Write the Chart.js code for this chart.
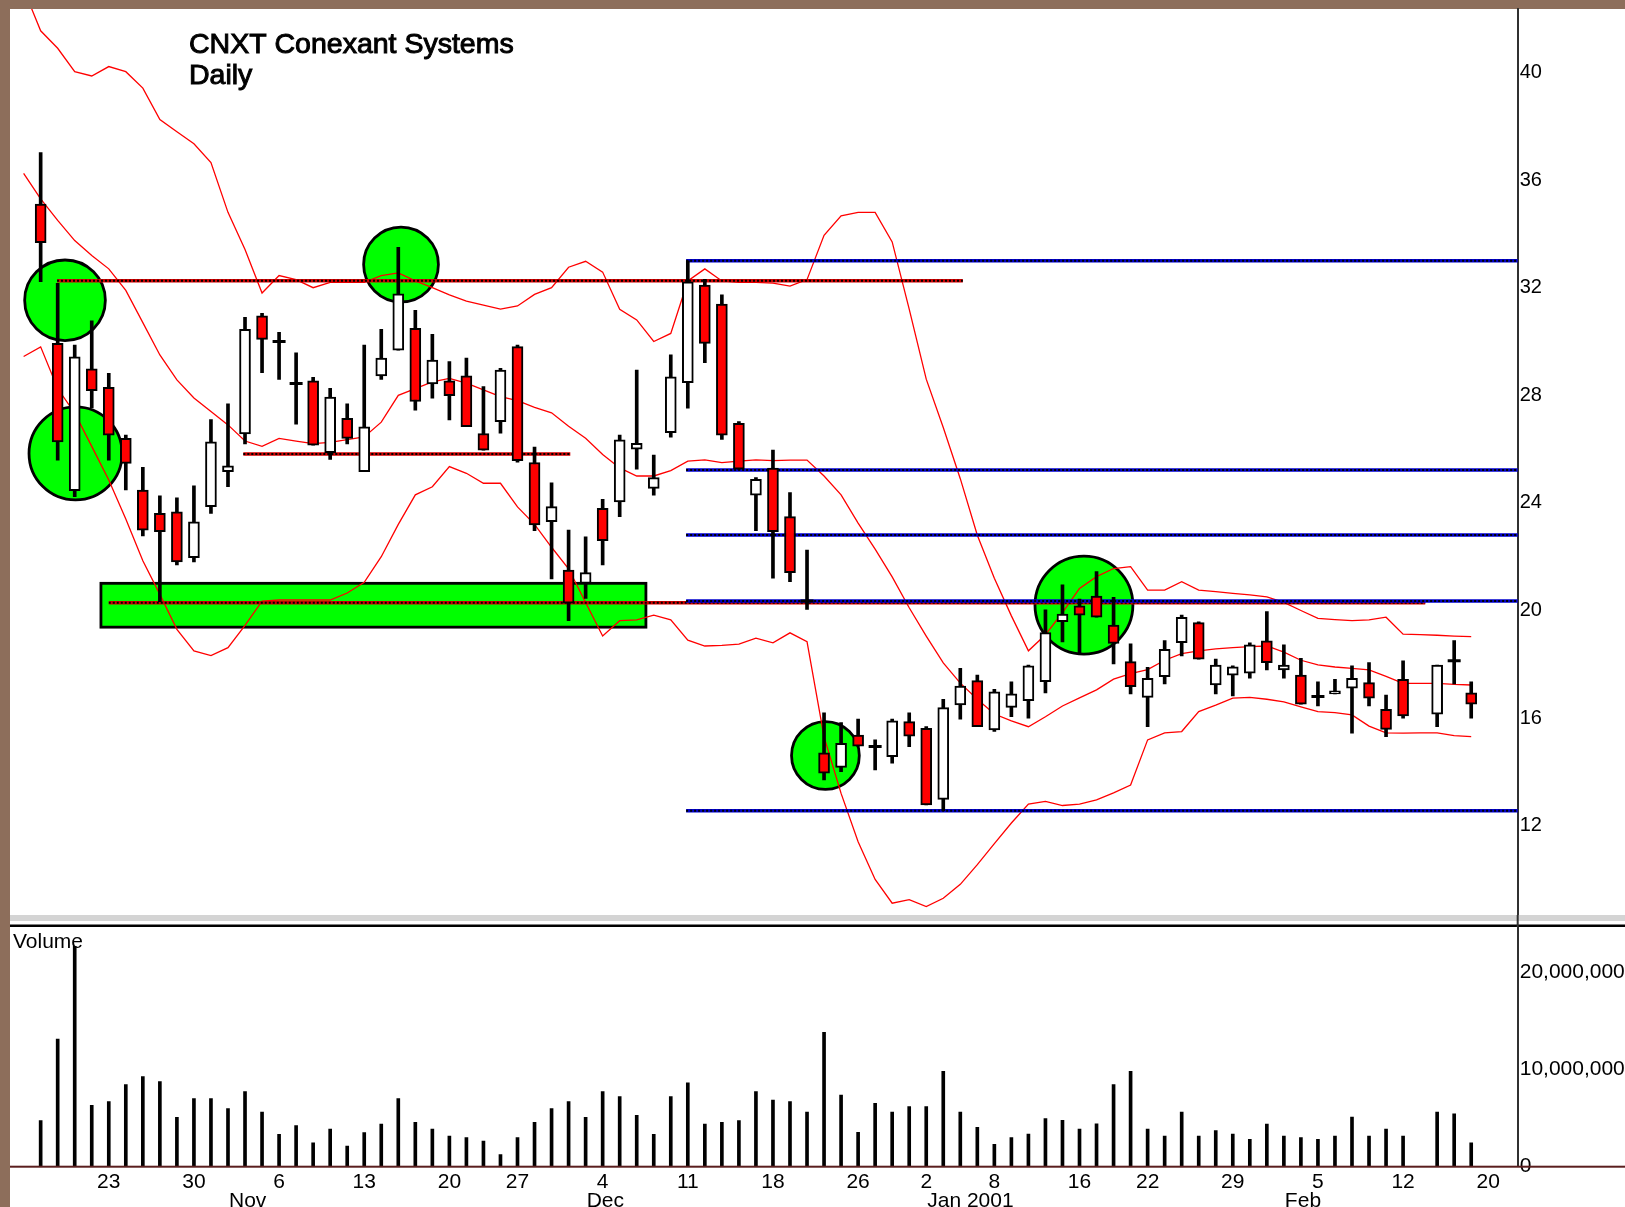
<!DOCTYPE html>
<html>
<head>
<meta charset="utf-8">
<script src="https://cdn.jsdelivr.net/npm/chart.js@4.4.1/dist/chart.umd.min.js"></script>
<style>
  html, body { margin: 0; padding: 0; background: #8d6e5b; }
  #wrap { position: relative; width: 1625px; height: 1207px; overflow: hidden; }
  canvas { position: absolute; left: 0; }
  #priceChart { top: 0; }
  #volChart { top: 927px; }
</style>
</head>
<body>
<div id="wrap">
  <canvas id="priceChart" width="1625" height="927"></canvas>
  <canvas id="volChart" width="1625" height="280"></canvas>
</div>
<script>
// Trading day index 0 = Oct 17 2000, 84 = Feb 16 2001 (81 = Feb 13, no data)
const opens = [35.11, 29.93, 24.45, 28.98, 28.3, 26.4, 24.48, 23.61, 23.67, 21.96,
  23.86, 25.16, 26.56, 30.95, 30.0, 28.44, 28.54, 25.87, 27.14, 25.16,
  28.72, 29.68, 30.49, 28.42, 28.54, 28.72, 26.58, 27.02, 29.81, 25.5,
  23.3, 21.5, 21.01, 23.8, 24.04, 26.0, 24.54, 26.61, 28.47, 32.1,
  31.39, 26.96, 24.29, 25.29, 23.49, 20.35, 14.71, 14.17, 15.37, 14.94,
  14.57, 15.87, 15.62, 12.98, 16.49, 17.39, 15.56, 16.4, 16.65, 17.35,
  19.58, 20.17, 20.54, 19.46, 18.1, 16.77, 17.54, 18.8, 19.55, 17.23,
  17.6, 17.67, 18.87, 17.79, 17.6, 16.8, 16.9, 17.11, 17.32, 16.33,
  17.44, null, 16.15, 18.13, 16.94];
const highs = [37.02, 32.16, 29.87, 30.77, 28.82, 26.52, 25.32, 24.26, 24.19, 24.63,
  27.1, 27.68, 30.9, 31.05, 30.34, 29.58, 28.67, 28.26, 27.68, 29.87,
  30.45, 33.5, 31.16, 30.27, 29.25, 29.38, 28.32, 29.0, 29.87, 26.07,
  24.75, 22.99, 22.74, 24.13, 26.52, 28.94, 25.78, 29.5, 33.0, 32.31,
  31.73, 27.02, 24.94, 25.96, 24.38, 22.25, 16.2, 15.83, 15.96, 15.19,
  15.96, 16.2, 15.68, 16.7, 17.85, 17.6, 17.07, 17.35, 17.97, 20.02,
  20.95, 20.42, 21.45, 20.49, 18.76, 17.89, 18.88, 19.83, 19.58, 18.19,
  17.94, 18.8, 19.96, 18.72, 18.22, 17.35, 17.44, 17.94, 18.06, 16.86,
  18.13, null, 17.97, 18.88, 17.35];
const lows = [32.22, 25.59, 24.23, 27.53, 25.59, 24.48, 22.77, 20.33, 21.69, 21.81,
  23.61, 24.6, 26.19, 28.84, 28.59, 26.93, 26.15, 25.62, 26.19, 25.16,
  28.59, 29.68, 27.45, 27.89, 27.08, 26.83, 25.96, 26.59, 25.51, 22.97,
  21.17, 19.62, 20.45, 21.69, 23.49, 25.25, 24.29, 26.44, 27.52, 29.21,
  26.36, 25.25, 22.97, 21.2, 21.07, 20.04, 13.7, 14.01, 14.96, 14.07,
  14.32, 14.94, 12.77, 12.56, 15.96, 15.68, 15.5, 16.05, 16.0, 16.94,
  18.83, 18.41, 19.75, 18.01, 16.9, 15.68, 17.27, 18.31, 18.19, 16.9,
  16.82, 17.48, 17.79, 17.48, 16.52, 16.45, 16.9, 15.44, 16.45, 15.31,
  16.0, null, 15.68, 17.27, 16.0];
const closes = [33.67, 26.27, 29.43, 28.17, 26.52, 25.47, 22.99, 22.93, 21.81, 23.3,
  26.27, 25.38, 30.45, 30.08, 30.0, 28.44, 26.15, 27.93, 26.4, 26.83,
  29.38, 31.77, 27.77, 29.31, 27.99, 26.83, 25.96, 28.94, 25.57, 23.18,
  23.86, 20.27, 21.41, 22.6, 26.34, 26.21, 24.94, 28.69, 32.22, 29.93,
  26.52, 25.25, 24.88, 22.93, 21.41, 20.35, 13.95, 15.06, 14.96, 14.94,
  15.9, 15.33, 12.77, 16.39, 17.19, 15.68, 16.98, 16.9, 17.94, 19.18,
  19.87, 19.83, 19.75, 18.78, 17.17, 17.48, 18.56, 19.75, 18.19, 17.97,
  17.91, 18.72, 18.06, 17.97, 16.52, 16.8, 17.01, 17.48, 16.74, 15.58,
  16.08, null, 17.97, 18.13, 16.52];
// volume in millions of shares
const volumeM = [4.74, 13.16, 22.7, 6.32, 6.70, 8.45, 9.28, 8.76, 5.09, 7.01,
  7.01, 5.98, 7.73, 5.64, 3.33, 4.23, 2.47, 3.88, 2.13, 3.51,
  4.40, 7.01, 4.57, 3.88, 3.16, 2.99, 2.65, 1.24, 2.99, 4.57,
  5.98, 6.70, 5.09, 7.73, 7.22, 5.29, 3.33, 7.22, 8.63, 4.40,
  4.57, 4.74, 7.73, 6.87, 6.70, 5.64, 13.85, 7.39, 3.54, 6.53,
  5.64, 6.19, 6.19, 9.83, 5.64, 4.06, 2.30, 2.99, 3.37, 4.95,
  4.78, 3.88, 4.43, 8.45, 9.83, 3.88, 3.16, 5.64, 3.16, 3.71,
  3.37, 2.82, 4.40, 3.16, 2.99, 2.82, 3.16, 5.12, 3.16, 3.88,
  3.16, null, 5.64, 5.46, 2.47];

// Bollinger bands, first value is the day before index 0
const bandStart = -1;
const upperBand = [43.1, 41.55, 40.9, 40.03, 39.87, 40.22, 40.03, 39.42, 38.25, 37.8,
  37.35, 36.65, 34.8, 33.42, 31.8, 32.45, 32.3, 32.0, 32.2, 32.2,
  32.2, 32.45, 32.55, 32.25, 32.0, 31.73, 31.5, 31.35, 31.2, 31.32,
  31.75, 32.0, 32.76, 32.98, 32.58, 31.2, 30.8, 30.0, 30.3, 32.25,
  32.7, 32.25, 32.2, 32.2, 32.17, 32.06, 32.3, 33.95, 34.67, 34.8,
  34.8, 33.7, 31.2, 28.6, 26.8, 24.9, 22.8, 21.2, 19.8, 18.5,
  19.1, 19.92, 20.82, 21.26, 21.56, 21.63, 20.76, 20.76, 21.07, 20.76,
  20.7, 20.64, 20.58, 20.51, 20.3, 20.0, 19.71, 19.66, 19.62, 19.65,
  19.75, 19.12, 19.1, 19.08, 19.05, 19.03];
const middleBand = [36.25, 35.3, 34.5, 33.75, 33.2, 32.7, 31.9, 30.7, 29.5, 28.57,
  27.9, 27.4, 26.9, 26.3, 26.1, 26.4, 26.3, 26.2, 26.25, 26.35,
  26.45, 27.0, 28.0, 28.25, 28.5, 28.63, 28.45, 28.2, 27.95, 27.8,
  27.55, 27.35, 26.85, 26.4, 25.8, 25.3, 25.0, 25.0, 25.2, 25.55,
  25.6, 25.5, 25.55, 25.6, 25.57, 25.59, 25.59, 25.0, 24.3, 23.25,
  22.28, 21.25, 20.1, 19.05, 18.05, 17.3, 16.7, 16.15, 15.9, 15.68,
  16.05, 16.45, 16.75, 17.05, 17.45, 17.65, 17.8, 18.15, 18.4, 18.5,
  18.57, 18.62, 18.66, 18.68, 18.45, 18.15, 17.98, 17.9, 17.85, 17.79,
  17.55, 17.29, 17.29, 17.29, 17.25, 17.23];
const lowerBand = [29.44, 29.8, 28.25, 27.34, 26.1, 24.85, 23.4, 21.85, 20.6, 19.3,
  18.5, 18.32, 18.62, 19.45, 20.35, 20.39, 20.39, 20.39, 20.39, 20.65,
  21.05, 22.0, 23.2, 24.3, 24.6, 25.35, 25.1, 24.73, 24.73, 23.85,
  23.2, 22.35, 21.55, 20.3, 19.05, 19.62, 19.65, 19.83, 19.65, 18.9,
  18.68, 18.7, 18.75, 18.97, 18.8, 19.17, 18.84, 15.3, 13.2, 11.4,
  10.0, 9.12, 9.25, 8.99, 9.3, 9.82, 10.55, 11.33, 12.1, 12.8,
  12.9, 12.75, 12.8, 12.96, 13.22, 13.51, 15.19, 15.45, 15.5, 16.24,
  16.48, 16.74, 16.77, 16.7, 16.6, 16.42, 16.24, 16.2, 16.12, 15.7,
  15.45, 15.44, 15.45, 15.45, 15.35, 15.31];

// hand drawn support / resistance lines (red) and fibonacci levels (blue)
const resLevels = [32.26, 25.82, 20.29];
const resFrom = [0.96, 11.9, 4.0];
const resTo = [54.15, 31.1, 81.3];
const fibLevels = [33.0, 25.22, 22.81, 20.35, 12.56];
const fibFrom = 37.9;
const fibTo = 88;

// axis labels
const priceTicks = [12, 16, 20, 24, 28, 32, 36, 40];
const volTicks = [0, 10000000, 20000000];
const dayTicks = [4, 9, 14, 19, 24, 28, 33, 38, 43, 48, 52, 56, 61, 65, 70, 75, 80, 85];
const dayLabels = ['23', '30', '6', '13', '20', '27', '4', '11', '18', '26', '2', '8', '16', '22', '29', '5', '12', '20'];
const monthStarts = [11, 32, 52, 73];
const monthLabels = ['Nov', 'Dec', 'Jan 2001', 'Feb'];

// green highlights (centre in day index / price, radius in price units)
const circleX = [1.43, 2.05, 21.16, 46.08, 61.26];
const circleY = [31.53, 25.84, 32.86, 14.61, 20.2];
const circleR = [1.5, 1.73, 1.39, 1.26, 1.82];
const supportZone = { from: 3.54, to: 35.54, low: 19.38, high: 21.01 };

const xMin = -1.8, xMax = 86.73;
const FONT = '"Liberation Sans", Arial, sans-serif';
Chart.defaults.font.family = FONT;
Chart.defaults.color = '#000';

const noPad = s => { s.paddingTop = 0; s.paddingBottom = 0; s.paddingLeft = 0; s.paddingRight = 0; };

// ---- price panel datasets
const idx = opens.map((_, i) => i);
const valid = idx.filter(i => opens[i] !== null);
const wickPts = valid.map(i => ({ x: i, y: [lows[i], highs[i]] }));
const bodyIdx = valid.filter(i => opens[i] !== closes[i]);
const bodyPts = bodyIdx.map(i => ({ x: i, y: [opens[i], closes[i]] }));
const bodyColors = bodyIdx.map(i => closes[i] < opens[i] ? '#ff0000' : '#ffffff');
const dojiPts = valid.filter(i => opens[i] === closes[i]).map(i => ({ x: i, y: closes[i] }));

const bandSet = (vals) => ({
  type: 'line',
  data: vals.map((v, i) => ({ x: i + bandStart, y: v })),
  borderColor: '#ff0000', borderWidth: 1.3, pointRadius: 0, tension: 0, fill: false, order: 10
});

const datasets = [bandSet(upperBand), bandSet(middleBand), bandSet(lowerBand)];
resLevels.forEach((lv, k) => {
  const pts = [{ x: resFrom[k], y: lv }, { x: resTo[k], y: lv }];
  datasets.push({ type: 'line', data: pts, borderColor: '#d00000', borderWidth: 3.5, pointRadius: 0, order: 7 });
  datasets.push({ type: 'line', data: pts, borderColor: '#000000', borderWidth: 2, borderDash: [2, 2], pointRadius: 0, order: 6.9 });
});
fibLevels.forEach(lv => {
  const pts = [{ x: fibFrom, y: lv }, { x: fibTo, y: lv }];
  datasets.push({ type: 'line', data: pts, borderColor: '#0000cc', borderWidth: 3.5, pointRadius: 0, order: 5 });
  datasets.push({ type: 'line', data: pts, borderColor: '#000000', borderWidth: 2, borderDash: [2, 2], pointRadius: 0, order: 4.9 });
});
datasets.push({ type: 'bar', data: wickPts, backgroundColor: '#000', borderWidth: 0, barThickness: 3, grouped: false, order: 2 });
datasets.push({ type: 'bar', data: bodyPts, backgroundColor: bodyColors, borderColor: '#000', borderWidth: 2,
  borderSkipped: false, barThickness: 11, grouped: false, order: 1 });
datasets.push({ type: 'line', data: dojiPts, showLine: false, pointStyle: 'line', pointRadius: 6.5,
  pointBorderWidth: 3, pointBorderColor: '#000', order: 0 });

const priceDecor = {
  id: 'priceDecor',
  beforeDraw(chart) {
    const ctx = chart.ctx;
    ctx.save();
    ctx.fillStyle = '#fff';
    ctx.fillRect(10, 9, chart.width - 10, chart.height - 9);
    ctx.restore();
  },
  beforeDatasetsDraw(chart) {
    const { ctx, scales: { x, y } } = chart;
    ctx.save();
    ctx.fillStyle = '#00ff00';
    ctx.strokeStyle = '#000';
    ctx.lineWidth = 2.8;
    const zx0 = x.getPixelForValue(supportZone.from), zx1 = x.getPixelForValue(supportZone.to);
    const zy0 = y.getPixelForValue(supportZone.high), zy1 = y.getPixelForValue(supportZone.low);
    ctx.fillRect(zx0, zy0, zx1 - zx0, zy1 - zy0);
    ctx.strokeRect(zx0, zy0, zx1 - zx0, zy1 - zy0);
    circleX.forEach((cx, k) => {
      const px = x.getPixelForValue(cx), py = y.getPixelForValue(circleY[k]);
      const r = Math.abs(y.getPixelForValue(circleY[k] + circleR[k]) - py);
      ctx.beginPath();
      ctx.arc(px, py, r, 0, Math.PI * 2);
      ctx.fill();
      ctx.stroke();
    });
    ctx.restore();
  },
  afterDraw(chart) {
    const ctx = chart.ctx;
    const area = chart.chartArea;
    ctx.save();
    // title
    ctx.fillStyle = '#000';
    ctx.strokeStyle = '#000';
    ctx.lineWidth = 1;
    ctx.font = '28.5px ' + FONT;
    ctx.textBaseline = 'alphabetic';
    ctx.fillText('CNXT Conexant Systems', 189, 53);
    ctx.strokeText('CNXT Conexant Systems', 189, 53);
    ctx.fillText('Daily', 189, 83.5);
    ctx.strokeText('Daily', 189, 83.5);
    // panel separator
    ctx.fillStyle = '#d4d4d4';
    ctx.fillRect(10, area.bottom, chart.width - 10, 6);
    ctx.fillStyle = '#000';
    ctx.fillRect(10, area.bottom + 9.5, chart.width - 10, 2.5);
    ctx.fillStyle = '#303030';
    ctx.fillRect(area.right - 1, area.bottom, 2, 12);
    ctx.restore();
  }
};

new Chart(document.getElementById('priceChart'), {
  type: 'bar',
  data: { datasets },
  options: {
    responsive: false,
    animation: false,
    events: [],
    layout: { autoPadding: false, padding: { left: 10, top: 9, bottom: 12, right: 0 } },
    plugins: { legend: { display: false }, tooltip: { enabled: false } },
    scales: {
      x: { type: 'linear', min: xMin, max: xMax, display: false, offset: false },
      y: {
        type: 'linear', position: 'right', min: 8.68, max: 42.36,
        afterBuildTicks: s => { s.ticks = priceTicks.map(v => ({ value: v })); },
        afterFit: s => { s.width = 107.3; noPad(s); },
        grid: { display: false, drawTicks: false },
        border: { display: true, color: '#303030', width: 2 },
        ticks: { padding: 2, color: '#000', font: { size: 20 } }
      }
    }
  },
  plugins: [priceDecor]
});

// ---- volume panel
const volPts = idx.filter(i => volumeM[i] !== null).map(i => ({ x: i, y: volumeM[i] * 1e6 }));

const volDecor = {
  id: 'volDecor',
  beforeDraw(chart) {
    const ctx = chart.ctx;
    ctx.save();
    ctx.fillStyle = '#fff';
    ctx.fillRect(10, 0, chart.width - 10, chart.height);
    ctx.restore();
  },
  afterDraw(chart) {
    const { ctx, chartArea: area, scales: { x } } = chart;
    ctx.save();
    ctx.fillStyle = '#000';
    ctx.font = '21px ' + FONT;
    ctx.textBaseline = 'middle';
    ctx.textAlign = 'left';
    ctx.fillText('Volume', 13, 15.5);
    monthStarts.forEach((m, k) => {
      ctx.fillText(monthLabels[k], x.getPixelForValue(m) + 1, 274);
    });
    ctx.fillStyle = '#5a1e1e';
    ctx.fillRect(10, area.bottom - 1, chart.width - 10, 2);
    ctx.restore();
  }
};

new Chart(document.getElementById('volChart'), {
  type: 'bar',
  data: {
    datasets: [{ data: volPts, backgroundColor: '#000', borderWidth: 0, barThickness: 3, grouped: false }]
  },
  options: {
    responsive: false,
    animation: false,
    events: [],
    layout: { autoPadding: false, padding: { left: 10, top: 0, bottom: 0, right: 0 } },
    plugins: { legend: { display: false }, tooltip: { enabled: false } },
    scales: {
      x: {
        type: 'linear', min: xMin, max: xMax, offset: false, position: 'bottom',
        afterBuildTicks: s => { s.ticks = dayTicks.map(v => ({ value: v })); },
        afterFit: s => { s.height = 40.3; noPad(s); },
        grid: { display: false, drawTicks: false },
        border: { display: false },
        ticks: { autoSkip: false, maxRotation: 0, padding: 3, color: '#000', font: { size: 21 },
          callback: (v, i) => dayLabels[i] }
      },
      y: {
        type: 'linear', position: 'right', min: 0, max: 24700000,
        afterBuildTicks: s => { s.ticks = volTicks.map(v => ({ value: v })); },
        afterFit: s => { s.width = 107.3; noPad(s); },
        grid: { display: false, drawTicks: false },
        border: { display: true, color: '#303030', width: 2 },
        ticks: { padding: 2, color: '#000', font: { size: 21 },
          callback: v => v.toLocaleString('en-US') }
      }
    }
  },
  plugins: [volDecor]
});
</script>
</body>
</html>
